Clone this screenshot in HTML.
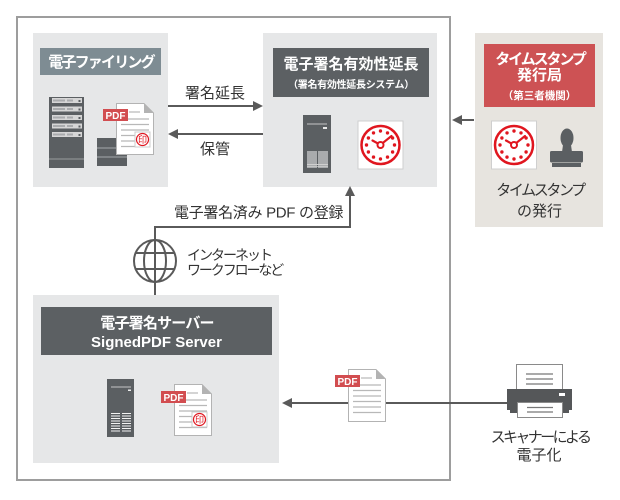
<!DOCTYPE html>
<html><head><meta charset="utf-8">
<style>
html,body{margin:0;padding:0;background:#fff;}
svg{display:block;}
text{font-family:"Liberation Sans","Noto Sans CJK JP",sans-serif;}
</style></head><body>
<svg width="620" height="500" viewBox="0 0 620 500" xmlns="http://www.w3.org/2000/svg">
<!-- outer frame -->
<rect x="17" y="17" width="433" height="463" fill="none" stroke="#9d9d9d" stroke-width="2"/>

<!-- panels -->
<rect x="33" y="33" width="135" height="154" fill="#e6e7e8"/>
<rect x="263" y="33" width="174" height="154" fill="#e6e7e8"/>
<rect x="33" y="295" width="246" height="168" fill="#e6e7e8"/>
<rect x="475" y="33" width="128" height="194" fill="#e7e4df"/>

<!-- title bars -->
<rect x="40" y="48" width="121" height="27" fill="#7e8c93"/>
<text x="101" y="67" font-size="15" font-weight="bold" fill="#fff" text-anchor="middle" letter-spacing="-1.8">電子ファイリング</text>

<rect x="273" y="48" width="156" height="49" fill="#5c6063"/>
<text x="351" y="69" font-size="15" font-weight="bold" fill="#fff" text-anchor="middle">電子署名有効性延長</text>
<text x="351" y="88" font-size="10" font-weight="bold" fill="#fff" text-anchor="middle" letter-spacing="-0.3">（署名有効性延長システム）</text>

<rect x="484" y="44" width="111" height="63" fill="#cd5254"/>
<text x="540" y="64" font-size="15" font-weight="bold" fill="#fff" text-anchor="middle" letter-spacing="-2.1">タイムスタンプ</text>
<text x="539.5" y="80" font-size="15" font-weight="bold" fill="#fff" text-anchor="middle">発行局</text>
<text x="539.5" y="99" font-size="10.5" font-weight="bold" fill="#fff" text-anchor="middle">（第三者機関）</text>

<rect x="41" y="307" width="231" height="48" fill="#5c6063"/>
<text x="157" y="328" font-size="15" font-weight="bold" fill="#fff" text-anchor="middle" letter-spacing="-0.8">電子署名サーバー</text>
<text x="156.5" y="347" font-size="15" font-weight="bold" fill="#fff" text-anchor="middle">SignedPDF Server</text>

<!-- rack server (left) -->
<rect x="49" y="97" width="35" height="71" fill="#5b5f62"/>
<g fill="#d6d6d6">
<rect x="52" y="98" width="30" height="5"/>
<rect x="52" y="106.5" width="30" height="5"/>
<rect x="52" y="115" width="30" height="5"/>
<rect x="52" y="123.5" width="30" height="5"/>
<rect x="52" y="132" width="30" height="5"/>
</g>
<g fill="#a9abad">
<rect x="53" y="99.5" width="12" height="2"/><rect x="67" y="99.5" width="6" height="2"/>
<rect x="53" y="108" width="12" height="2"/><rect x="67" y="108" width="6" height="2"/>
<rect x="53" y="116.5" width="12" height="2"/><rect x="67" y="116.5" width="6" height="2"/>
<rect x="53" y="125" width="12" height="2"/><rect x="67" y="125" width="6" height="2"/>
<rect x="53" y="133.5" width="12" height="2"/><rect x="67" y="133.5" width="6" height="2"/>
</g>
<g fill="#5b5f62">
<rect x="78.5" y="100" width="2" height="2"/><rect x="78.5" y="108.5" width="2" height="2"/><rect x="78.5" y="117" width="2" height="2"/><rect x="78.5" y="125.5" width="2" height="2"/><rect x="78.5" y="134" width="2" height="2"/>
</g>
<line x1="49" y1="159" x2="84" y2="159" stroke="#9a9c9e" stroke-width="1"/>

<!-- db stack (left) -->
<rect x="97" y="138" width="30" height="28" fill="#5b5f62"/>
<line x1="97" y1="148" x2="127" y2="148" stroke="#8d9193" stroke-width="1.5"/>
<line x1="97" y1="157" x2="127" y2="157" stroke="#8d9193" stroke-width="1.5"/>

<!-- left doc -->
<g transform="translate(116,103)">
<path d="M0.5,0.5 H28 L37.5,10 V51.5 H0.5 Z" fill="#fff" stroke="#b3b3b3"/>
<path d="M28,0.5 L37.5,10 H28 Z" fill="#b3b3b3"/>
<g stroke="#b8b8b8" stroke-width="1.2">
<line x1="13" y1="9" x2="24" y2="9"/>
<line x1="5" y1="16" x2="33" y2="16"/>
<line x1="5" y1="21.5" x2="33" y2="21.5"/>
<line x1="5" y1="27" x2="33" y2="27"/>
<line x1="5" y1="32.5" x2="33" y2="32.5"/>
<line x1="5" y1="38" x2="33" y2="38"/>
<line x1="5" y1="43.5" x2="33" y2="43.5"/>
</g>
<rect x="-13" y="6" width="25" height="12" fill="#d24d50"/>
<text x="-0.5" y="16" font-size="10" font-weight="bold" fill="#fff" text-anchor="middle">PDF</text>
<rect x="19" y="29" width="15" height="15" fill="#fff" stroke="#ccc"/>
<circle cx="26.5" cy="36.5" r="6" fill="none" stroke="#e0161f" stroke-width="1.2"/>
<text x="26.5" y="40" font-size="9" fill="#e0161f" text-anchor="middle">印</text>
</g>

<!-- arrows between left & right -->
<g stroke="#5a5a5a" stroke-width="2" fill="none">
<line x1="168" y1="106" x2="255" y2="106"/>
<line x1="177" y1="134" x2="263" y2="134"/>
<line x1="460" y1="120" x2="474" y2="120"/>
<polyline points="155,240 155,227 350,227 350,194"/>
<line x1="155" y1="282" x2="155" y2="295"/>
<line x1="290" y1="403" x2="507" y2="403"/>
</g>
<g fill="#5a5a5a">
<polygon points="263,106 253,101 253,111"/>
<polygon points="168,134 178,129 178,139"/>
<polygon points="452,120 462,115 462,125"/>
<polygon points="350,186 345,196 355,196"/>
<polygon points="282,403 292,398 292,408"/>
</g>
<text x="215" y="98" font-size="15" fill="#333" text-anchor="middle">署名延長</text>
<text x="215" y="154" font-size="15" fill="#333" text-anchor="middle">保管</text>
<text x="174" y="217.5" font-size="15" fill="#333" letter-spacing="-0.3">電子署名済み PDF の登録</text>

<!-- globe -->
<g stroke="#5a5a5a" stroke-width="2" fill="none">
<circle cx="155" cy="261" r="21"/>
<ellipse cx="155" cy="261" rx="11" ry="21"/>
<line x1="155" y1="240" x2="155" y2="282"/>
<line x1="135.6" y1="253" x2="174.4" y2="253"/>
<line x1="135.6" y1="269" x2="174.4" y2="269"/>
</g>
<text x="187" y="260" font-size="14" fill="#333" letter-spacing="-2">インターネット</text>
<text x="187" y="275" font-size="14" fill="#333" letter-spacing="-2.1">ワークフローなど</text>

<!-- right panel server -->
<rect x="303" y="115" width="28" height="58" fill="#5b5f62"/>
<line x1="307" y1="124" x2="327" y2="124" stroke="#c5c5c5" stroke-width="1"/>
<rect x="323" y="127" width="4" height="2" fill="#e8e8e8"/>
<rect x="307" y="151" width="10" height="17" fill="#a9abad"/>
<rect x="318" y="151" width="10" height="17" fill="#a9abad"/>
<line x1="307" y1="164.5" x2="328" y2="164.5" stroke="#cfcfcf" stroke-width="1"/>
<line x1="307" y1="166.5" x2="328" y2="166.5" stroke="#cfcfcf" stroke-width="0.8"/>

<!-- clock 1 -->
<g transform="translate(380.5,145)">
<rect x="-22.5" y="-24" width="45" height="48" fill="#fff" stroke="#cfcfcf"/>
<circle r="19" fill="none" stroke="#e0161f" stroke-width="2.5"/>
<g fill="#e0161f">
<circle cx="0" cy="-14" r="1.7"/><circle cx="7" cy="-12.1" r="1.7"/><circle cx="12.1" cy="-7" r="1.7"/>
<circle cx="14" cy="0" r="1.7"/><circle cx="12.1" cy="7" r="1.7"/><circle cx="7" cy="12.1" r="1.7"/>
<circle cx="0" cy="14" r="1.7"/><circle cx="-7" cy="12.1" r="1.7"/><circle cx="-12.1" cy="7" r="1.7"/>
<circle cx="-14" cy="0" r="1.7"/><circle cx="-12.1" cy="-7" r="1.7"/><circle cx="-7" cy="-12.1" r="1.7"/>
</g>
<g stroke="#e0161f" stroke-width="2.2" stroke-linecap="round">
<line x1="-2" y1="-1.2" x2="-8" y2="-4.5"/>
<line x1="2" y1="-1.8" x2="11" y2="-9"/>
</g>
<circle r="3" fill="#fff" stroke="#e0161f" stroke-width="2"/>
</g>

<!-- clock 2 -->
<g transform="translate(514,145)">
<rect x="-22.5" y="-24" width="45" height="48" fill="#fff" stroke="#cfcfcf"/>
<circle r="19" fill="none" stroke="#e0161f" stroke-width="2.5"/>
<g fill="#e0161f">
<circle cx="0" cy="-14" r="1.7"/><circle cx="7" cy="-12.1" r="1.7"/><circle cx="12.1" cy="-7" r="1.7"/>
<circle cx="14" cy="0" r="1.7"/><circle cx="12.1" cy="7" r="1.7"/><circle cx="7" cy="12.1" r="1.7"/>
<circle cx="0" cy="14" r="1.7"/><circle cx="-7" cy="12.1" r="1.7"/><circle cx="-12.1" cy="7" r="1.7"/>
<circle cx="-14" cy="0" r="1.7"/><circle cx="-12.1" cy="-7" r="1.7"/><circle cx="-7" cy="-12.1" r="1.7"/>
</g>
<g stroke="#e0161f" stroke-width="2.2" stroke-linecap="round">
<line x1="-2" y1="-1.2" x2="-8" y2="-4.5"/>
<line x1="2" y1="-1.8" x2="11" y2="-9"/>
</g>
<circle r="3" fill="#fff" stroke="#e0161f" stroke-width="2"/>
</g>

<!-- stamp -->
<g fill="#5b5f62">
<ellipse cx="567" cy="138" rx="6.5" ry="9.5"/>
<path d="M563,145 H571 L572,152 H562 Z"/>
<rect x="550" y="151" width="33" height="11.5" rx="1.5"/>
<rect x="552" y="163" width="29" height="4"/>
</g>
<text x="540" y="195" font-size="15" fill="#333" text-anchor="middle" letter-spacing="-2.4">タイムスタンプ</text>
<text x="539.5" y="216" font-size="15" fill="#333" text-anchor="middle">の発行</text>

<!-- bottom server -->
<rect x="107" y="379" width="27" height="58" fill="#5b5f62"/>
<line x1="111" y1="387" x2="131" y2="387" stroke="#c5c5c5" stroke-width="1"/>
<rect x="128" y="389.5" width="3" height="1.5" fill="#eee"/>
<g stroke="#f2f2f2" stroke-width="1">
<line x1="111" y1="413.5" x2="120" y2="413.5"/><line x1="122" y1="413.5" x2="131" y2="413.5"/>
<line x1="111" y1="416" x2="120" y2="416"/><line x1="122" y1="416" x2="131" y2="416"/>
<line x1="111" y1="418.5" x2="120" y2="418.5"/><line x1="122" y1="418.5" x2="131" y2="418.5"/>
<line x1="111" y1="421" x2="120" y2="421"/><line x1="122" y1="421" x2="131" y2="421"/>
<line x1="111" y1="423.5" x2="120" y2="423.5"/><line x1="122" y1="423.5" x2="131" y2="423.5"/>
<line x1="111" y1="426" x2="120" y2="426"/><line x1="122" y1="426" x2="131" y2="426"/>
<line x1="111" y1="428.5" x2="120" y2="428.5"/><line x1="122" y1="428.5" x2="131" y2="428.5"/>
<line x1="111" y1="431" x2="120" y2="431"/><line x1="122" y1="431" x2="131" y2="431"/>
</g>

<!-- bottom doc -->
<g transform="translate(174,384)">
<path d="M0.5,0.5 H28 L37.5,10 V51.5 H0.5 Z" fill="#fff" stroke="#b3b3b3"/>
<path d="M28,0.5 L37.5,10 H28 Z" fill="#b3b3b3"/>
<g stroke="#b8b8b8" stroke-width="1.2">
<line x1="13" y1="9" x2="24" y2="9"/>
<line x1="5" y1="16" x2="33" y2="16"/>
<line x1="5" y1="21.5" x2="33" y2="21.5"/>
<line x1="5" y1="27" x2="33" y2="27"/>
<line x1="5" y1="32.5" x2="33" y2="32.5"/>
<line x1="5" y1="38" x2="33" y2="38"/>
<line x1="5" y1="43.5" x2="33" y2="43.5"/>
</g>
<rect x="-13" y="7" width="25" height="12" fill="#d24d50"/>
<text x="-0.5" y="17" font-size="10" font-weight="bold" fill="#fff" text-anchor="middle">PDF</text>
<rect x="18" y="28" width="15" height="15" fill="#fff" stroke="#ccc"/>
<circle cx="25.5" cy="35.5" r="6" fill="none" stroke="#e0161f" stroke-width="1.2"/>
<text x="25.5" y="39" font-size="9" fill="#e0161f" text-anchor="middle">印</text>
</g>

<!-- middle doc -->
<g transform="translate(348,369)">
<path d="M0.5,0.5 H28 L37.5,10 V52.5 H0.5 Z" fill="#fff" stroke="#b3b3b3"/>
<path d="M28,0.5 L37.5,10 H28 Z" fill="#b3b3b3"/>
<g stroke="#b8b8b8" stroke-width="1.2">
<line x1="13" y1="9" x2="24" y2="9"/>
<line x1="5" y1="16" x2="33" y2="16"/>
<line x1="5" y1="21.5" x2="33" y2="21.5"/>
<line x1="5" y1="27" x2="33" y2="27"/>
<line x1="5" y1="32.5" x2="33" y2="32.5"/>
<line x1="5" y1="38" x2="33" y2="38"/>
<line x1="5" y1="43.5" x2="33" y2="43.5"/>
</g>
<rect x="-13" y="6" width="25" height="12" fill="#d24d50"/>
<text x="-0.5" y="16" font-size="10" font-weight="bold" fill="#fff" text-anchor="middle">PDF</text>
</g>

<!-- printer -->
<rect x="516.5" y="364.5" width="46" height="25" fill="#fff" stroke="#8a8a8a"/>
<g stroke="#777" stroke-width="1.3">
<line x1="526" y1="374" x2="553" y2="374"/>
<line x1="526" y1="379" x2="553" y2="379"/>
<line x1="526" y1="384" x2="553" y2="384"/>
</g>
<path d="M507,389 H572 V410 H569 V413 H510 V410 H507 Z" fill="#555759"/>
<rect x="559" y="393" width="6" height="3" fill="#fff"/>
<rect x="517.5" y="402.5" width="45" height="15" fill="#fff" stroke="#8a8a8a"/>
<g stroke="#777" stroke-width="1.3">
<line x1="527" y1="407.5" x2="553" y2="407.5"/>
<line x1="527" y1="412" x2="553" y2="412"/>
</g>
<text x="540" y="442" font-size="15" fill="#333" text-anchor="middle" letter-spacing="-2.6">スキャナーによる</text>
<text x="539" y="460" font-size="15" fill="#333" text-anchor="middle">電子化</text>
</svg>
</body></html>
